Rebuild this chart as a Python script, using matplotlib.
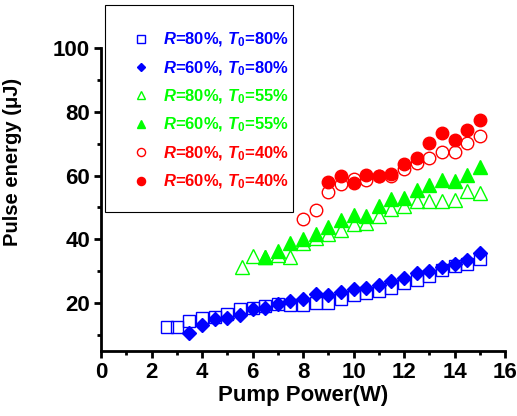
import matplotlib.pyplot as plt
from matplotlib.patches import Rectangle
from matplotlib.ticker import MultipleLocator

plt.rcParams['font.family'] = ['Liberation Sans', 'DejaVu Sans']
plt.rcParams['mathtext.fontset'] = 'custom'
plt.rcParams['mathtext.rm'] = 'Liberation Sans:bold'
plt.rcParams['mathtext.it'] = 'Liberation Sans:italic:bold'
plt.rcParams['mathtext.bf'] = 'Liberation Sans:bold'

# R=80%, T0=80%  (open squares)
x_r80_t80 = [2.6, 3.0, 3.5, 4.0, 4.5, 5.0, 5.5, 6.0, 6.5, 7.0, 7.5, 8.0, 8.5, 9.0,
             9.5, 10.0, 10.5, 11.0, 11.5, 12.0, 12.5, 13.0, 13.5, 14.0, 14.5, 15.0]
y_r80_t80 = [12.6, 12.6, 14.5, 15.2, 15.8, 16.6, 18.1, 18.6, 19.0, 19.6, 19.4, 19.4, 19.9, 20.2,
             21.2, 22.6, 23.3, 23.8, 24.9, 26.2, 27.2, 28.5, 30.4, 31.5, 32.2, 33.7]

# R=60%, T0=80%  (filled diamonds)
x_r60_t80 = [3.5, 4.0, 4.5, 5.0, 5.5, 6.0, 6.5, 7.0, 7.5, 8.0, 8.5, 9.0, 9.5, 10.0,
             10.5, 11.0, 11.5, 12.0, 12.5, 13.0, 13.5, 14.0, 14.5, 15.0]
y_r60_t80 = [10.8, 13.2, 15.0, 15.3, 16.3, 18.1, 18.6, 19.7, 20.7, 21.2, 23.0, 22.6, 23.5, 24.4,
             24.7, 25.7, 26.8, 28.0, 29.4, 30.1, 31.3, 32.2, 33.4, 35.8]

# R=80%, T0=55%  (open triangles)
x_r80_t55 = [5.6, 6.0, 6.5, 7.0, 7.5, 8.0, 8.5, 9.0, 9.5, 10.0, 10.5, 11.0, 11.5,
             12.0, 12.5, 13.0, 13.5, 14.0, 14.5, 15.0]
y_r80_t55 = [31.3, 34.8, 34.5, 35.0, 34.6, 39.0, 40.5, 41.8, 43.0, 44.7, 45.2, 47.3, 49.4,
             50.5, 52.0, 52.0, 52.0, 52.5, 55.1, 54.5]

# R=60%, T0=55%  (filled triangles)
x_r60_t55 = [6.5, 7.0, 7.5, 8.0, 8.5, 9.0, 9.5, 10.0, 10.5, 11.0, 11.5, 12.0, 12.5,
             13.0, 13.5, 14.0, 14.5, 15.0]
y_r60_t55 = [34.6, 36.3, 39.0, 40.0, 41.8, 43.9, 46.2, 47.8, 47.3, 50.4, 52.7, 53.0, 55.6,
             57.2, 58.7, 58.2, 60.3, 62.7]

# R=80%, T0=40%  (open circles)
x_r80_t40 = [8.0, 8.5, 9.0, 9.5, 10.0, 10.5, 11.0, 11.5, 12.0, 12.5, 13.0, 13.5, 14.0, 14.5, 15.0]
y_r80_t40 = [46.3, 49.1, 55.0, 57.4, 59.0, 58.7, 59.8, 59.8, 62.2, 63.9, 65.5, 67.4, 67.3, 70.3, 72.4]

# R=60%, T0=40%  (filled circles)
x_r60_t40 = [9.0, 9.5, 10.0, 10.5, 11.0, 11.5, 12.0, 12.5, 13.0, 13.5, 14.0, 14.5, 15.0]
y_r60_t40 = [57.9, 59.8, 57.7, 60.3, 59.8, 60.5, 63.6, 65.5, 70.2, 73.2, 71.3, 74.4, 77.3]

labels = [r'$R$=80%, $T_0$=80%', r'$R$=60%, $T_0$=80%',
          r'$R$=80%, $T_0$=55%', r'$R$=60%, $T_0$=55%',
          r'$R$=80%, $T_0$=40%', r'$R$=60%, $T_0$=40%']

fig = plt.figure(figsize=(5.17, 4.16), dpi=100)
ax = fig.add_axes([0.1954, 0.1562, 0.7814, 0.7284])

blue, green, red = '#0000ff', '#00ff00', '#ff0000'
ax.plot(x_r80_t80, y_r80_t80, 's', ms=8.5, mfc='none', mec=blue, mew=1.0, label=labels[0])
ax.plot(x_r60_t80, y_r60_t80, 'D', ms=7, color=blue, label=labels[1])
ax.plot(x_r80_t55, y_r80_t55, '^', ms=9.5, mfc='none', mec=green, mew=1.0, label=labels[2])
ax.plot(x_r60_t55, y_r60_t55, '^', ms=9.5, color=green, label=labels[3])
ax.plot(x_r80_t40, y_r80_t40, 'o', ms=9, mfc='none', mec=red, mew=1.0, label=labels[4])
ax.plot(x_r60_t40, y_r60_t40, 'o', ms=9, color=red, label=labels[5])

ax.set_xlim(0, 16)
ax.set_ylim(5, 100)
ax.xaxis.set_major_locator(MultipleLocator(2))
ax.xaxis.set_minor_locator(MultipleLocator(1))
ax.yaxis.set_major_locator(MultipleLocator(20))
ax.yaxis.set_minor_locator(MultipleLocator(10))

for s in ['top', 'right']:
    ax.spines[s].set_visible(False)
for s in ['left', 'bottom']:
    ax.spines[s].set_linewidth(2)

ax.tick_params(which='major', direction='out', length=5, width=2, labelsize=16, pad=3)
ax.tick_params(which='minor', direction='out', length=3, width=2)
for t in ax.get_xticklabels() + ax.get_yticklabels():
    t.set_fontweight('bold')

ax.set_xlabel('Pump Power(W)', fontsize=16, fontweight='bold', labelpad=1)
ax.set_ylabel('Pulse energy (μJ)', fontsize=14.5, fontweight='bold')
ax.yaxis.set_label_coords(-0.196, 0.624)

# legend box
fig.patches.append(Rectangle((105 / 517, 1 - 212 / 416), 188 / 517, 207 / 416,
                             transform=fig.transFigure, fill=False, ec='black', lw=0.8))
leg = fig.legend(loc='center', bbox_to_anchor=(211 / 517, 1 - 111 / 416), frameon=False,
                 prop={'weight': 'bold', 'size': 12}, markerscale=0.65,
                 handlelength=1.0, handletextpad=0.8, labelspacing=0.6)
for txt, c in zip(leg.get_texts(), [blue, blue, green, green, red, red]):
    txt.set_color(c)

plt.savefig('out.png', dpi=100)
